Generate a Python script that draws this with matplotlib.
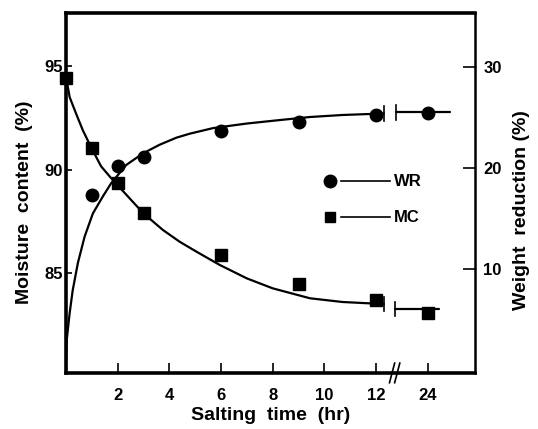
import matplotlib.pyplot as plt

plt.rcParams['font.family'] = ['Liberation Sans', 'DejaVu Sans']
plt.rcParams['font.weight'] = 'bold'

# measured points (hours); 24 hr is drawn after the axis break
hours_mc = [0, 1, 2, 3, 6, 9, 12, 24]
mc = [94.4, 91.05, 89.35, 87.9, 85.85, 84.45, 83.7, 83.05]
hours_wr = [1, 2, 3, 6, 9, 12, 24]
wr = [17.3, 20.2, 21.1, 23.7, 24.6, 25.2, 25.4]

# fitted curves
wr_curve_t = [0, 0.03, 0.14, 0.26, 0.46, 0.72, 1.04, 1.43, 1.75, 2.33, 2.98,
              3.62, 4.27, 4.79, 5.69, 6.98, 8.28, 9.44, 10.7, 12.3]
wr_curve = [0.0, 3.0, 5.6, 7.9, 10.6, 13.2, 15.5, 17.2, 18.5, 20.3, 21.45,
            22.3, 23.0, 23.4, 23.95, 24.4, 24.75, 25.05, 25.25, 25.4]
mc_curve_t = [0, 0.14, 0.39, 0.65, 1.0, 1.36, 1.75, 2.46, 3.0, 3.75, 4.4,
              5.05, 5.95, 7.0, 8.0, 9.44, 10.7, 12.3]
mc_curve = [94.5, 93.5, 92.7, 91.9, 91.0, 90.15, 89.58, 88.61, 87.88, 87.08,
            86.51, 86.03, 85.39, 84.74, 84.26, 83.78, 83.6, 83.5]
# short tails after the break (axis positions)
tail_pos_wr = [12.78, 14.85]
tail_wr = [25.5, 25.5]
tail_pos_mc = [12.75, 14.45]
tail_mc = [83.25, 83.25]

tick_pos = [2, 4, 6, 8, 10, 12, 14]
tick_labels = ['2', '4', '6', '8', '10', '12', '24']


def pos(h):
    return 14 if h == 24 else h


fig = plt.figure(figsize=(5.38, 4.29), dpi=100)
ax = fig.add_axes([66 / 538, 1 - 373 / 429, 409 / 538, 360 / 429])
ax2 = ax.twinx()

ax.set_xlim(0, 15.83)
ax.set_ylim(80.17, 97.56)
ax2.set_ylim(-0.3, 35.35)

line_kw = dict(color='black', lw=1.6, solid_joinstyle='round', solid_capstyle='round')
ax.plot(mc_curve_t, mc_curve, **line_kw)
ax.plot(tail_pos_mc, tail_mc, **line_kw)
ax2.plot(wr_curve_t, wr_curve, **line_kw)
ax2.plot(tail_pos_wr, tail_wr, **line_kw)

# little break bars on the curves
ax.plot([12.3, 12.3], [83.15, 83.85], color='black', lw=1.2)
ax.plot([12.75, 12.75], [82.9, 83.6], color='black', lw=1.2)
ax2.plot([12.3, 12.3], [24.7, 26.1], color='black', lw=1.2)
ax2.plot([12.78, 12.78], [24.8, 26.2], color='black', lw=1.2)

# markers
ax.plot([pos(h) for h in hours_mc], mc, 's', color='black', ms=8, clip_on=False, zorder=5)
ax2.plot([pos(h) for h in hours_wr], wr, 'o', color='black', ms=9, clip_on=False, zorder=5)

# legend drawn by hand
ax.plot([0.645], [0.533], 'o', color='black', ms=9, transform=ax.transAxes)
ax.plot([0.672, 0.792], [0.533, 0.533], color='black', lw=1.2, transform=ax.transAxes)
ax.text(0.802, 0.533, 'WR', transform=ax.transAxes, va='center', ha='left',
        fontsize=12, fontweight='bold')
ax.plot([0.645], [0.433], 's', color='black', ms=7, transform=ax.transAxes)
ax.plot([0.672, 0.792], [0.433, 0.433], color='black', lw=1.2, transform=ax.transAxes)
ax.text(0.802, 0.433, 'MC', transform=ax.transAxes, va='center', ha='left',
        fontsize=12, fontweight='bold')

# axes styling
for sp in ['left', 'bottom', 'top']:
    ax.spines[sp].set_linewidth(2.6)
ax.spines['right'].set_linewidth(1.8)
for sp in ax2.spines.values():
    sp.set_visible(False)

ax.set_xticks(tick_pos)
ax.set_xticklabels(tick_labels)
ax.set_yticks([85, 90, 95])
ax2.set_yticks([10, 20, 30])
ax.tick_params(axis='x', direction='in', length=7, width=1.2, pad=11, labelsize=12)
ax.tick_params(axis='y', direction='in', length=4, width=1.2, pad=2, labelsize=12)
ax2.tick_params(axis='y', direction='in', length=9, width=1.2, pad=6, labelsize=12)

# axis break on the bottom axis
ax.plot([12.52, 12.72], [79.7, 80.65], color='black', lw=1.2, clip_on=False)
ax.plot([12.72, 12.92], [79.7, 80.65], color='black', lw=1.2, clip_on=False)

fig.text(271 / 538, 1 - 415 / 429, 'Salting  time  (hr)', ha='center', va='center',
         fontsize=14, fontweight='bold')
fig.text(25 / 538, 1 - 202 / 429, 'Moisture  content  (%)', ha='center', va='center',
         rotation=90, fontsize=14, fontweight='bold')
fig.text(521 / 538, 1 - 210 / 429, 'Weight  reduction (%)', ha='center', va='center',
         rotation=90, fontsize=14, fontweight='bold')

fig.savefig('out.png', dpi=100)
